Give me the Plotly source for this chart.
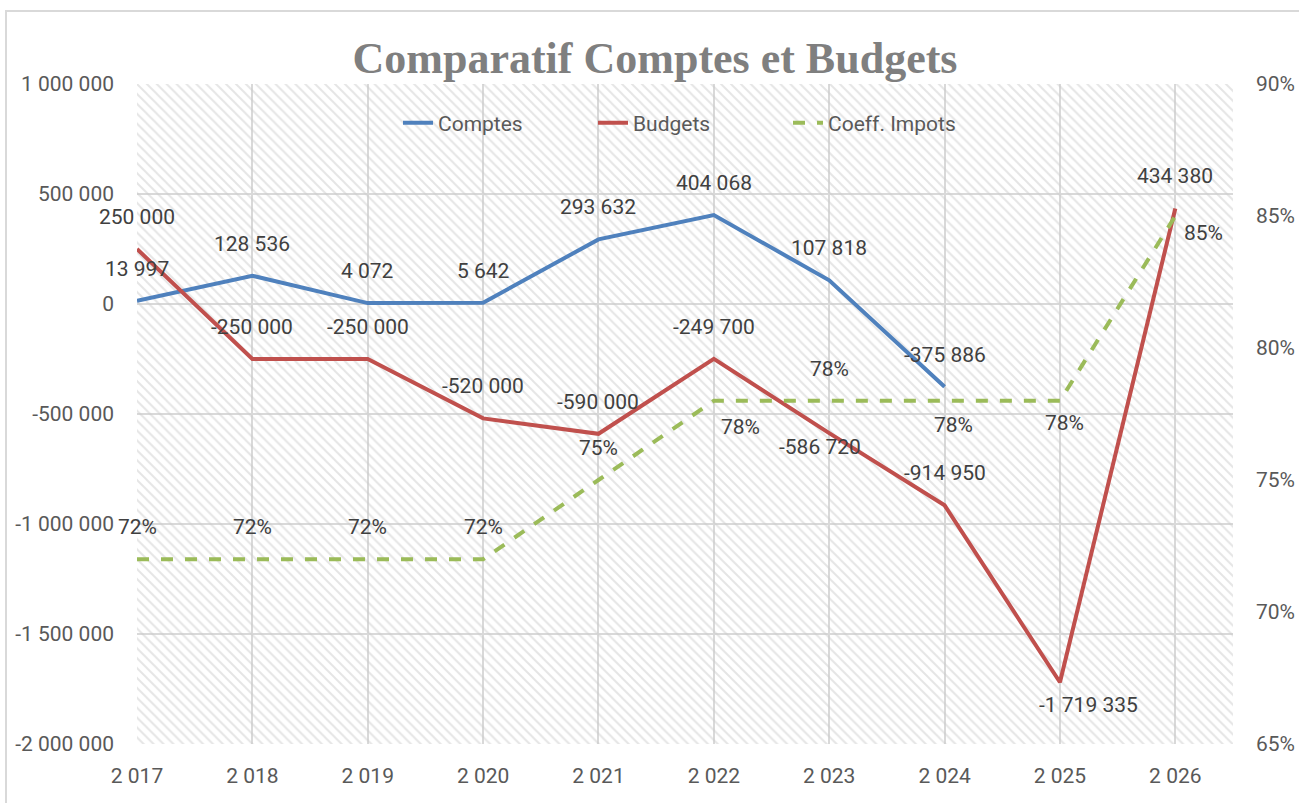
import plotly.graph_objects as go

years = ["2 017", "2 018", "2 019", "2 020", "2 021", "2 022", "2 023", "2 024", "2 025", "2 026"]
comptes = [13997, 128536, 4072, 5642, 293632, 404068, 107818, -375886, None, None]
budgets = [250000, -250000, -250000, -520000, -590000, -249700, -586720, -914950, -1719335, 434380]
coeff = [0.72, 0.72, 0.72, 0.72, 0.75, 0.78, 0.78, 0.78, 0.78, 0.85]

# left axis ticks
y_ticks = [1000000, 500000, 0, -500000, -1000000, -1500000, -2000000]

# label offsets in px (xshift, yshift)
ABOVE = (0, 32)
comptes_off = [ABOVE] * 10
budgets_off = [ABOVE] * 6 + [(-9, -14), ABOVE, (29, -23), ABOVE]
coeff_off = [ABOVE] * 5 + [(27, -26), ABOVE, (9, -24), (5, -22), (28, -17)]

X_RANGE = [0, 9.5]
Y_RANGE = [-2000000, 1000000]
Y2_RANGE = [0.65, 0.90]

FONT = "Roboto, Arial, sans-serif"
TICK_COLOR = "#595959"
LABEL_COLOR = "#404040"
GRID = "#d9d9d9"

xs = list(range(len(years)))


def fmt_num(v):
    return f"{v:,}".replace(",", " ")


fig = go.Figure()

# hatched background of the plot area
fig.add_trace(go.Scatter(
    x=[X_RANGE[0], X_RANGE[1], X_RANGE[1], X_RANGE[0], X_RANGE[0]],
    y=[Y_RANGE[0], Y_RANGE[0], Y_RANGE[1], Y_RANGE[1], Y_RANGE[0]],
    mode="none", fill="toself", fillcolor="rgba(0,0,0,0)",
    fillpattern=dict(shape="\\", fgcolor="#cbcbcb", size=7, solidity=0.28),
    showlegend=False, hoverinfo="skip",
))

fig.add_trace(go.Scatter(x=xs, y=comptes, name="Comptes", mode="lines",
                         line=dict(color="#4F81BD", width=4)))
fig.add_trace(go.Scatter(x=xs, y=budgets, name="Budgets", mode="lines",
                         line=dict(color="#C0504D", width=4)))
fig.add_trace(go.Scatter(x=xs, y=coeff, name="Coeff. Impots", mode="lines",
                         yaxis="y2", line=dict(color="#9BBB59", width=4, dash="dash")))

annotations = []
for series, offs, yref, fmt in [
    (comptes, comptes_off, "y", fmt_num),
    (budgets, budgets_off, "y", fmt_num),
    (coeff, coeff_off, "y2", lambda v: f"{round(v * 100)}%"),
]:
    for x, v, (dx, dy) in zip(xs, series, offs):
        if v is None:
            continue
        annotations.append(dict(
            x=x, y=v, xref="x", yref=yref, text=fmt(v), showarrow=False,
            xshift=dx, yshift=dy, font=dict(family=FONT, size=21, color=LABEL_COLOR),
        ))

W, H = 1299, 803
ml, mr, mt, mb = 137, 66, 84, 59
pw, ph = W - ml - mr, H - mt - mb

# outer chart border (light gray)
shapes = [dict(
    type="rect", xref="paper", yref="paper",
    x0=(6 - ml) / pw, x1=(1320 - ml) / pw,
    y0=(H - mb - 820) / ph, y1=(H - mb - 11) / ph,
    line=dict(color="#d9d9d9", width=2), fillcolor="rgba(0,0,0,0)", layer="below",
)]

fig.update_layout(
    width=W, height=H, autosize=False,
    margin=dict(l=ml, r=mr, t=mt, b=mb, autoexpand=False),
    paper_bgcolor="white", plot_bgcolor="white",
    separators=", ",
    title=dict(text="<b>Comparatif Comptes et Budgets</b>", x=655 / W, xanchor="center",
               xref="container", y=1 - 58 / H, yanchor="middle", yref="container",
               font=dict(family="Liberation Serif, serif", size=44, color="#7F7F7F")),
    xaxis=dict(range=X_RANGE, tickvals=xs, ticktext=years, showgrid=True, gridcolor=GRID,
               gridwidth=2, zeroline=False, showline=False, ticks="", automargin=False,
               tickfont=dict(family=FONT, size=21, color=TICK_COLOR), ticklabelstandoff=17),
    yaxis=dict(range=Y_RANGE, tickvals=y_ticks, ticktext=[fmt_num(v) for v in y_ticks],
               showgrid=True, gridcolor=GRID, automargin=False,
               gridwidth=2, zeroline=False, showline=False, ticks="",
               tickfont=dict(family=FONT, size=21, color=TICK_COLOR), ticklabelstandoff=22),
    yaxis2=dict(range=Y2_RANGE, dtick=0.05, tickformat=".0%", overlaying="y", side="right",
                showgrid=False, zeroline=False, showline=False, ticks="", automargin=False,
                tickfont=dict(family=FONT, size=21, color=TICK_COLOR), ticklabelstandoff=22),
    legend=dict(orientation="h", x=(397 - 40 - ml + 41) / pw, xanchor="left",
                y=(H - mb - 123) / ph, yanchor="middle", bgcolor="rgba(0,0,0,0)",
                font=dict(family=FONT, size=21, color=TICK_COLOR), entrywidth=150,
                traceorder="normal"),
    annotations=annotations,
    shapes=shapes,
    showlegend=True,
)

fig.write_html("out.html", config={"displayModeBar": False},
               post_script="document.body.style.margin='0';")
